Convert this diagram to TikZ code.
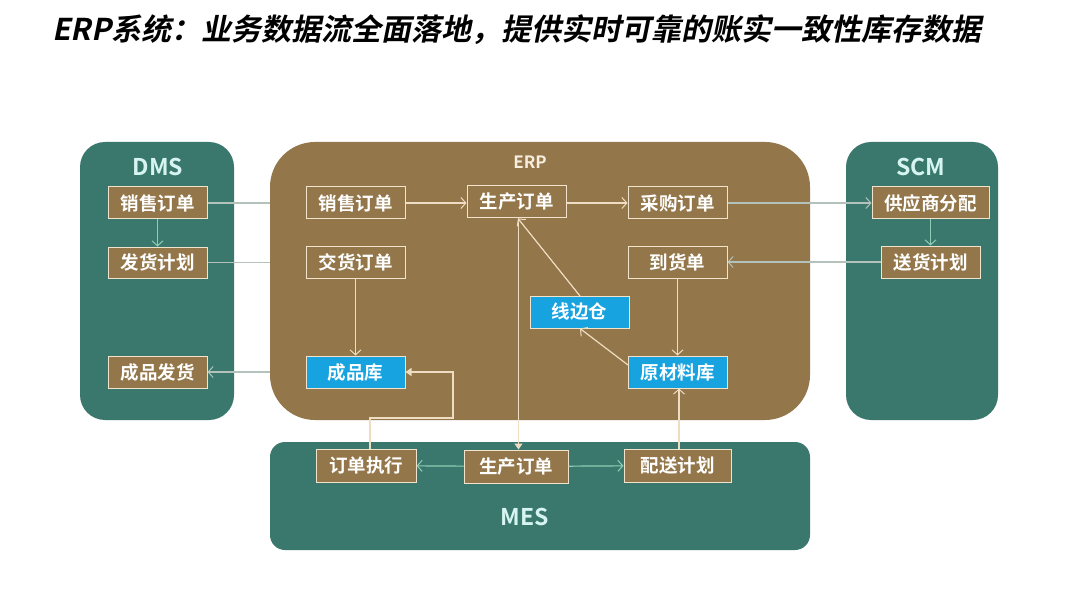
\documentclass[tikz,border=0pt]{standalone}
\usepackage{fontspec}
\setmainfont{Noto Sans CJK SC}
\newfontfamily\cjkb{Noto Sans CJK SC}[BoldFont={* Bold}]
\newfontfamily\titlefont{Noto Sans CJK SC}[BoldFont={* Bold},BoldFeatures={FakeSlant=0.2}]
\usetikzlibrary{arrows.meta}
\definecolor{teal1}{HTML}{3A786D}
\definecolor{brown1}{HTML}{937649}
\definecolor{cream}{HTML}{F2E3CC}
\definecolor{blue1}{HTML}{16A3E0}
\definecolor{lab}{HTML}{D6F5F2}
\definecolor{greyln}{HTML}{B3C2BA}
\definecolor{greenln}{HTML}{8FCDB5}
\definecolor{creamln}{HTML}{EEDDC2}
\tikzset{
  container/.style={inner sep=0pt,outer sep=0pt},
  bbox/.style={draw=cream,line width=1pt,fill=brown1,text=white,minimum width=99pt,minimum height=32pt,inner sep=0pt,font=\cjkb\bfseries\fontsize{18.5}{20}\selectfont},
  bluebox/.style={bbox,fill=blue1},
  syslabel/.style={text=lab,font=\cjkb\bfseries\fontsize{23}{25}\selectfont},
  vtip/.style={-{Straight Barb[length=5pt,width=11pt,line width=1pt]}},
  ttip/.style={-{Triangle[length=6pt,width=8pt]}},
  glink/.style={draw=greyln,line width=1.2pt},
  gnlink/.style={draw=greenln,line width=1.2pt},
  crlink/.style={draw=creamln,line width=1.2pt},
}
\begin{document}
\begin{tikzpicture}[x=1pt,y=-1pt]
\useasboundingbox[fill=white] (0,0) rectangle (1080,607);
% title
\node[anchor=west,inner sep=0pt,font=\titlefont\bfseries\fontsize{30}{32}\selectfont] (title) at (52,30) {ERP系统：业务数据流全面落地，提供实时可靠的账实一致性库存数据};
% containers
\fill[teal1,rounded corners=25pt] (80,142) rectangle (234,420);
\node[container] (dms) at (157,281) {};
\fill[teal1,rounded corners=25pt] (846,142) rectangle (998,420);
\fill[teal1,rounded corners=15pt] (270,442) rectangle (810,550);
% links under ERP container
\node[bbox] (dsales) at (157.5,203) {销售订单};
\node[bbox,minimum height=31pt] (dplan) at (157.5,262.5) {发货计划};
\node[bbox] (dfg) at (157.5,372) {成品发货};
\coordinate (erpW1) at (272,203);
\coordinate (erpW2) at (272,262.5);
\coordinate (erpW3) at (272,372);
\draw[glink] (dsales) -- (erpW1);
\draw[glink] (dplan) -- (erpW2);
\draw[glink,vtip] (erpW3) -- (dfg);
\fill[brown1,rounded corners=45pt] (270,142) rectangle (810,420);
% labels
\node[syslabel] (ldms) at (158,167) {DMS};
\node[syslabel] (lscm) at (921,167) {SCM};
\node[syslabel] (lmes) at (525,517) {MES};
\node[text=cream!60!white,font=\cjkb\bfseries\fontsize{17}{19}\selectfont] (lerp) at (530,162) {ERP};
% ERP nodes
\node[bbox] (esales) at (355.5,203) {销售订单};
\node[bbox] (eprod) at (516.5,202) {生产订单};
\node[bbox] (epur) at (677.5,203) {采购订单};
\node[bbox] (edeliv) at (355.5,262) {交货订单};
\node[bbox] (earr) at (677.5,262) {到货单};
\node[bluebox] (eline) at (579.5,312) {线边仓};
\node[bluebox] (efg) at (355.5,372) {成品库};
\node[bluebox] (eraw) at (677.5,372) {原材料库};
% SCM nodes
\node[bbox,minimum width=117pt] (ssup) at (930.5,203) {供应商分配};
\node[bbox] (sdel) at (930.5,262) {送货计划};
% MES nodes
\node[bbox,minimum width=100pt,minimum height=33pt] (mexe) at (366,465.5) {订单执行};
\node[bbox,minimum width=104pt,minimum height=33pt] (mprod) at (516,466.5) {生产订单};
\node[bbox,minimum width=107pt,minimum height=33pt] (mdist) at (677.5,465.5) {配送计划};
% DMS / SCM internal
\draw[gnlink,vtip] (dsales) -- (dplan);
\draw[gnlink,vtip] (ssup) -- (sdel);
% cross links
\draw[glink,vtip] (epur) -- (ssup);
\draw[glink,vtip] (sdel) -- (earr);
% ERP internal
\draw[crlink,vtip] (esales) -- (eprod.west |- esales);
\draw[crlink,vtip] (eprod.east |- epur) -- (epur);
\draw[crlink,vtip] (edeliv) -- (efg);
\draw[crlink,vtip] (earr) -- (eraw);
\coordinate (rawTL) at (628,365);
\draw[crlink,vtip] (rawTL) -- (580,328.5);
\draw[crlink,vtip] (580,296) -- (518,218.5);
% ERP production order down to MES production order
\draw[crlink,ttip] (eprod.south -| 518.5,0) -- (518.5,449.5);
% MES internal
\draw[gnlink,vtip] (mprod) -- (mexe);
\draw[gnlink,vtip] (mprod) -- (mdist);
% back to ERP
\draw[crlink,ttip] (mexe.north -| 370,0) -- (370,418) -- (453,418) -- (453,372) -- (efg.east);
\draw[crlink,vtip] (mdist.north -| 679,0) -- (eraw.south -| 679,0);
\end{tikzpicture}
\end{document}
